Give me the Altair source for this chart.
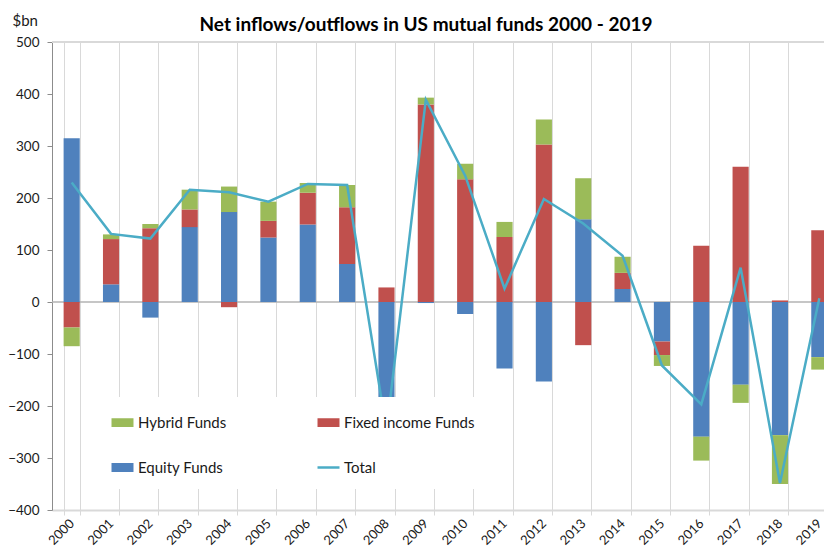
import altair as alt
import pandas as pd

years = [str(y) for y in range(2000, 2020)]
equity = [315, 34, -30, 144, 173, 124, 149, 73, -240, -2, -23, -128, -153, 159, 25, -76, -259, -159, -256, -106]
fixed_income = [-49, 87, 142, 34, -10, 32, 61, 109, 28, 380, 236, 125, 303, -83, 31, -26, 108, 260, 3, 138]
hybrid = [-36, 9, 8, 38, 49, 37, 19, 43, -35, 13, 30, 29, 48, 79, 31, -21, -46, -35, -94, -24]
total = [230, 131, 122, 216, 211, 193, 227, 225, -247, 389, 243, 26, 198, 151, 89, -122, -197, 66, -348, 7]

# legend is filled column by column: (Hybrid, Equity) | (Fixed income, Total)
series_names = ["Hybrid Funds", "Equity Funds", "Fixed income Funds", "Total"]
series_colors = ["#9BBB59", "#4F81BD", "#C0504D", "#4BACC6"]
RECT = "M-0.886,-0.295H0.886V0.295H-0.886Z"
LINE = "M-1,0H1"
series_shapes = [RECT, RECT, RECT, LINE]
y_ticks = [-400, -300, -200, -100, 0, 100, 200, 300, 400, 500]

rows = []
for i, yr in enumerate(years):
    rows.append({"year": yr, "series": "Equity Funds", "value": equity[i], "ord": 0})
    rows.append({"year": yr, "series": "Fixed income Funds", "value": fixed_income[i], "ord": 1})
    rows.append({"year": yr, "series": "Hybrid Funds", "value": hybrid[i], "ord": 2})
bars_df = pd.DataFrame(rows)
line_df = pd.DataFrame({"year": years, "series": ["Total"] * len(years), "value": total})

FONT = "Lato"
TXT = "#1a1a1a"

x_enc = alt.X(
    "year:N",
    sort=years,
    scale=alt.Scale(range=[0, 787], paddingInner=0.59, paddingOuter=0.295),
    axis=alt.Axis(
        title=None,
        labelAngle=-45,
        labelAlign="right",
        labelBaseline="middle",
        labelPadding=6,
        labelFont=FONT,
        labelFontSize=13,
        labelColor=TXT,
        grid=True,
        gridColor="#d9d9d9",
        gridWidth=1,
        tickBand="extent",
        tickColor="#d9d9d9",
        tickSize=5,
        domainColor="#d9d9d9",
        domainWidth=2,
    ),
)

y_enc = alt.Y(
    "value:Q",
    stack="zero",
    scale=alt.Scale(domain=[-400, 500], nice=False, zero=False),
    axis=alt.Axis(
        values=y_ticks,
        grid=False,
        title="$bn",
        titleAngle=0,
        titleAlign="left",
        titleBaseline="alphabetic",
        titleX=-40,
        titleY=-17,
        titleFont=FONT,
        titleFontSize=15,
        titleFontWeight="normal",
        titleColor=TXT,
        labelFont=FONT,
        labelFontSize=13.5,
        labelColor=TXT,
        labelPadding=8,
        domainColor="#8c8c8c",
        tickColor="#8c8c8c",
        tickSize=5,
    ),
)

legend = alt.Legend(
    title=None,
    orient="none",
    legendX=45,
    legendY=355,
    columns=2,
    symbolSize=484,
    symbolStrokeWidth=2.5,
    symbolOpacity=1,
    labelFont=FONT,
    labelFontSize=15,
    labelColor=TXT,
    labelOffset=3,
    labelLimit=300,
    rowPadding=24,
    columnPadding=85,
    padding=13,
    fillColor="white",
    zindex=1,
)

color_enc = alt.Color(
    "series:N",
    scale=alt.Scale(domain=series_names, range=series_colors),
    legend=legend,
)
shape_enc = alt.Shape(
    "series:N",
    scale=alt.Scale(domain=series_names, range=series_shapes),
    legend=legend,
)

top_rule = alt.Chart(pd.DataFrame({"v": [500]})).mark_rule(color="#d9d9d9", strokeWidth=2).encode(y=alt.Y("v:Q"))
zero_rule = alt.Chart(pd.DataFrame({"v": [0]})).mark_rule(color="#b3b3b3", strokeWidth=1.5).encode(y=alt.Y("v:Q"))

bars = alt.Chart(bars_df).mark_bar().encode(
    x=x_enc,
    y=y_enc,
    color=color_enc,
    order=alt.Order("ord:Q", sort="ascending"),
)

line = alt.Chart(line_df).mark_line(strokeWidth=2.5).encode(
    x=x_enc,
    y=alt.Y("value:Q"),
    color=color_enc,
)

# legend-only layer (no rows survive the filter); gives each legend entry its own symbol shape
key = alt.Chart(line_df).transform_filter("false").mark_point(filled=True).encode(
    x=x_enc,
    y=alt.Y("value:Q"),
    color=color_enc,
    shape=shape_enc,
)

chart = alt.layer(top_rule, zero_rule, bars, line, key).properties(
    width=772,
    height=468,
    autosize=alt.AutoSizeParams(type="none"),
    padding={"left": 44, "top": 34, "right": 0, "bottom": 39},
    title=alt.Title(
        "Net inflows/outflows in US mutual funds 2000 - 2019",
        font=FONT,
        fontSize=19,
        fontWeight="bold",
        color="#000000",
        anchor="middle",
        frame="group",
        baseline="alphabetic",
        dx=-12,
        dy=37,
        offset=0,
    ),
).configure_view(stroke=None).configure(background="white")

chart.save("out.html", embed_options={"renderer": "svg", "actions": False})
